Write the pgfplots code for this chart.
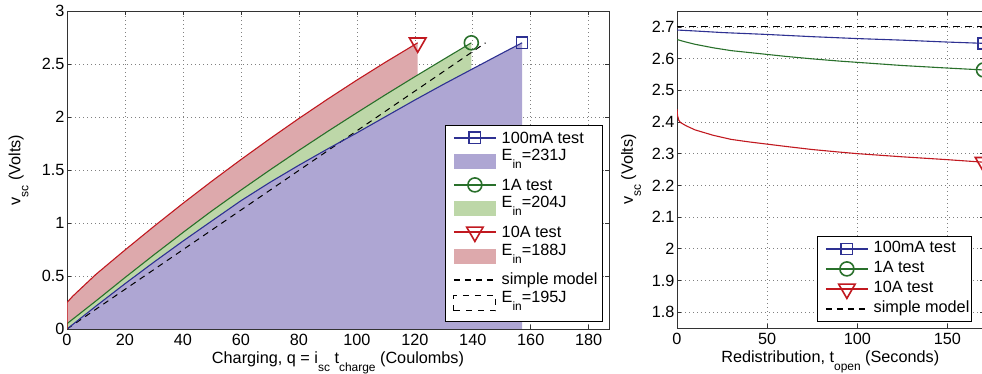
\documentclass[border=0pt]{standalone}
\usepackage{fontspec}
\setmainfont{Liberation Sans}
\usepackage{pgfplots}
\pgfplotsset{compat=1.18}

\definecolor{cblue}{RGB}{46,49,146}
\definecolor{cgreen}{RGB}{41,112,43}
\definecolor{cred}{RGB}{193,25,32}
\definecolor{fblue}{RGB}{174,166,211}
\definecolor{fgreen}{RGB}{189,215,168}
\definecolor{fred}{RGB}{221,169,172}

\newcommand{\mainfs}{\fontsize{16.3}{19}\selectfont}
\newcommand{\sub}[1]{\raisebox{-8bp}{\fontsize{12}{12}\selectfont #1}}

\tikzset{
  Lrow/.style={text height=12.5bp, text depth=2bp},
  Erow/.style={text height=12.5bp, text depth=14bp},
  Rrow/.style={text height=12.5bp, text depth=4.5bp},
}

\pgfplotsset{
  mystyle/.style={
    scale only axis,
    tick label style={font=\mainfs},
    label style={font=\mainfs},
    /pgf/number format/assume math mode=true,
    tick align=inside, xtick pos=both, ytick pos=both,
    xticklabel pos=lower, yticklabel pos=left,
    major tick length=4bp,
    xticklabel style={yshift=-2bp},
    yticklabel style={xshift=1bp},
    grid=major,
    major grid style={line width=0.6bp, black!50, dash pattern=on 0.8bp off 3.2bp},
    axis line style={line width=0.9bp, black!80},
    every tick/.style={black!80, line width=0.6bp},
    legend cell align=left,
    legend style={font=\mainfs, draw=black, line width=0.6bp, inner sep=3.5bp,
      nodes={inner sep=1.5bp}, row sep=0pt,
      /tikz/every odd column/.append style={column sep=3.5bp}},
  },
  linelegend/.style={legend image code/.code={%
    \path (-5bp,0bp);
    \draw[mark repeat=2,mark phase=2,line width=1.7bp,##1] plot coordinates {(0bp,0bp)(21bp,0bp)(42bp,0bp)};}},
  linelegendR/.style={legend image code/.code={%
    \path (-7.5bp,0bp);
    \draw[mark repeat=2,mark phase=2,line width=1.7bp,##1] plot coordinates {(0bp,0bp)(21bp,0bp)(42bp,0bp)};}},
  arealegend/.style={legend image code/.code={%
    \path (-5bp,0bp);
    \path[##1] (0bp,-7.5bp) rectangle (42bp,7.5bp);}},
}

\begin{document}
\begin{tikzpicture}
\begin{axis}[mystyle,
  at={(67bp,45bp)}, anchor=south west,
  width=542bp, height=318bp,
  xmin=0, xmax=187, ymin=0, ymax=3,
  xtick={0,20,40,60,80,100,120,140,160,180},
  ytick={0,0.5,1,1.5,2,2.5,3},
  xlabel={Charging, q = i\sub{sc} t\sub{charge} (Coulombs)},
  ylabel={v\sub{sc} (Volts)},
  xlabel style={at={(axis description cs:0.5,-0.107)}, anchor=base},
  ylabel style={at={(axis description cs:-0.0858,0.5)}, anchor=base},
  legend style={at={(axis description cs:1,0)}, anchor=south east, xshift=-6.3bp, yshift=7.3bp},
]
% fills
\addplot[fill=fred, draw=none, forget plot] coordinates {
(0,0) (0,0.25) (2,0.31) (10,0.516) (20,0.745) (30,0.968) (40,1.185) (50,1.395) (60,1.598) (70,1.795) (80,1.986) (90,2.170) (100,2.348) (110,2.519) (121,2.700) (121,0)} \closedcycle;
\addplot[fill=fgreen, draw=none, forget plot] coordinates {
(0,0) (0,0.05) (10,0.265) (20,0.485) (30,0.700) (40,0.910) (50,1.115) (60,1.310) (70,1.500) (80,1.685) (90,1.865) (100,2.040) (110,2.212) (120,2.380) (130,2.545) (139.5,2.700) (139.5,0)} \closedcycle;
\addplot[fill=fblue, draw=none, forget plot] coordinates {
(0,0) (10,0.216) (20,0.427) (30,0.631) (40,0.829) (50,1.020) (60,1.210) (70,1.383) (80,1.545) (90,1.700) (100,1.850) (110,2.005) (120,2.160) (130,2.310) (140,2.455) (150,2.600) (157,2.700) (157,0)} \closedcycle;
% simple model
\addplot[black, line width=1bp, dash pattern=on 6bp off 5bp, forget plot] coordinates {(0,0) (144.4,2.7)};
% curves
\addplot[cblue, line width=1.1bp, forget plot] coordinates {
(0,0) (10,0.216) (20,0.427) (30,0.631) (40,0.829) (50,1.020) (60,1.210) (70,1.383) (80,1.545) (90,1.700) (100,1.850) (110,2.005) (120,2.160) (130,2.310) (140,2.455) (150,2.600) (157,2.700)};
\addplot[cgreen, line width=1.1bp, forget plot] coordinates {
(0,0) (0,0.05) (10,0.265) (20,0.485) (30,0.700) (40,0.910) (50,1.115) (60,1.310) (70,1.500) (80,1.685) (90,1.865) (100,2.040) (110,2.212) (120,2.380) (130,2.545) (139.5,2.700)};
\addplot[cred, line width=1.1bp, forget plot] coordinates {
(0,0) (0,0.25) (2,0.31) (10,0.516) (20,0.745) (30,0.968) (40,1.185) (50,1.395) (60,1.598) (70,1.795) (80,1.986) (90,2.170) (100,2.348) (110,2.519) (121,2.700)};
% end markers
\addplot[only marks, cblue, mark=square, mark size=5.6bp, mark options={line width=1.6bp}, forget plot] coordinates {(157,2.7)};
\addplot[only marks, cgreen, mark=o, mark size=7bp, mark options={line width=1.6bp}, forget plot] coordinates {(139.5,2.7)};
\addplot[only marks, cred, mark=triangle, mark size=9.5bp, mark options={line width=1.6bp, rotate=180}, forget plot] coordinates {(121,2.7)};
% legend
\addlegendimage{linelegend, cblue, mark=square, mark size=5.6bp, mark options={solid, line width=1.6bp}}
\addlegendentry[Lrow]{100mA test}
\addlegendimage{arealegend, fill=fblue, draw=none}
\addlegendentry[Erow]{E\sub{in}=231J}
\addlegendimage{linelegend, cgreen, mark=o, mark size=7bp, mark options={solid, line width=1.6bp}}
\addlegendentry[Lrow]{1A test}
\addlegendimage{arealegend, fill=fgreen, draw=none}
\addlegendentry[Erow]{E\sub{in}=204J}
\addlegendimage{linelegend, cred, mark=triangle, mark size=9.5bp, mark options={solid, line width=1.6bp, rotate=180}}
\addlegendentry[Lrow]{10A test}
\addlegendimage{arealegend, fill=fred, draw=none}
\addlegendentry[Erow]{E\sub{in}=188J}
\addlegendimage{linelegend, black, line width=1bp, dash pattern=on 6bp off 5bp}
\addlegendentry[Lrow]{simple model}
\addlegendimage{arealegend, draw=black, line width=1bp, dash pattern=on 6bp off 6bp}
\addlegendentry[Erow]{E\sub{in}=195J}
\end{axis}

\begin{axis}[mystyle,
  at={(677bp,46bp)}, anchor=south west,
  width=306.5bp, height=317bp,
  xmin=0, xmax=170, ymin=1.75, ymax=2.75,
  xtick={0,50,100,150},
  ytick={1.8,1.9,2,2.1,2.2,2.3,2.4,2.5,2.6,2.7},
  xlabel={Redistribution, t\sub{open} (Seconds)},
  ylabel={v\sub{sc} (Volts)},
  xlabel style={at={(axis description cs:0.5,-0.11)}, anchor=base},
  ylabel style={at={(axis description cs:-0.1438,0.5)}, anchor=base},
  legend style={at={(axis description cs:1,0)}, anchor=south east, xshift=-12.3bp, yshift=6.3bp,
    inner xsep=1bp, inner ysep=2.5bp, nodes={inner xsep=0.5bp},
    /tikz/every odd column/.append style={column sep=4.5bp}},
]
\addplot[black, line width=1bp, dash pattern=on 7bp off 5bp, forget plot] coordinates {(0,2.7) (170,2.7)};
\addplot[cblue, line width=1.1bp, forget plot] coordinates {
(0,2.690) (10,2.687) (25,2.682) (50,2.676) (75,2.669) (100,2.663) (125,2.658) (150,2.652) (170,2.648)};
\addplot[cgreen, line width=1.1bp, forget plot] coordinates {
(0,2.660) (5,2.652) (10,2.645) (20,2.634) (30,2.625) (40,2.619) (50,2.613) (60,2.607) (75,2.599) (90,2.592) (100,2.588) (125,2.578) (150,2.570) (170,2.564)};
\addplot[cred, line width=1.1bp, forget plot] coordinates {
(0,2.440) (0.3,2.420) (1,2.405) (2,2.398) (5,2.388) (10,2.375) (20,2.358) (30,2.345) (40,2.337) (50,2.330) (60,2.323) (75,2.313) (90,2.305) (100,2.300) (125,2.290) (150,2.281) (170,2.273)};
\addplot[only marks, cblue, mark=square, mark size=5.6bp, mark options={line width=1.6bp}, forget plot] coordinates {(170,2.648)};
\addplot[only marks, cgreen, mark=o, mark size=7bp, mark options={line width=1.6bp}, forget plot] coordinates {(170,2.564)};
\addplot[only marks, cred, mark=triangle, mark size=9.5bp, mark options={line width=1.6bp, rotate=180}, forget plot] coordinates {(170,2.273)};
\addlegendimage{linelegendR, cblue, mark=square, mark size=5.6bp, mark options={solid, line width=1.6bp}}
\addlegendentry[Rrow]{100mA test}
\addlegendimage{linelegendR, cgreen, mark=o, mark size=7bp, mark options={solid, line width=1.6bp}}
\addlegendentry[Rrow]{1A test}
\addlegendimage{linelegendR, cred, mark=triangle, mark size=9.5bp, mark options={solid, line width=1.6bp, rotate=180}}
\addlegendentry[Rrow]{10A test}
\addlegendimage{linelegendR, black, line width=1bp, dash pattern=on 6bp off 5bp}
\addlegendentry[Rrow]{simple model}
\end{axis}
\pgfresetboundingbox
\useasboundingbox (0,0) rectangle (982bp,374bp);
\end{tikzpicture}
\end{document}
